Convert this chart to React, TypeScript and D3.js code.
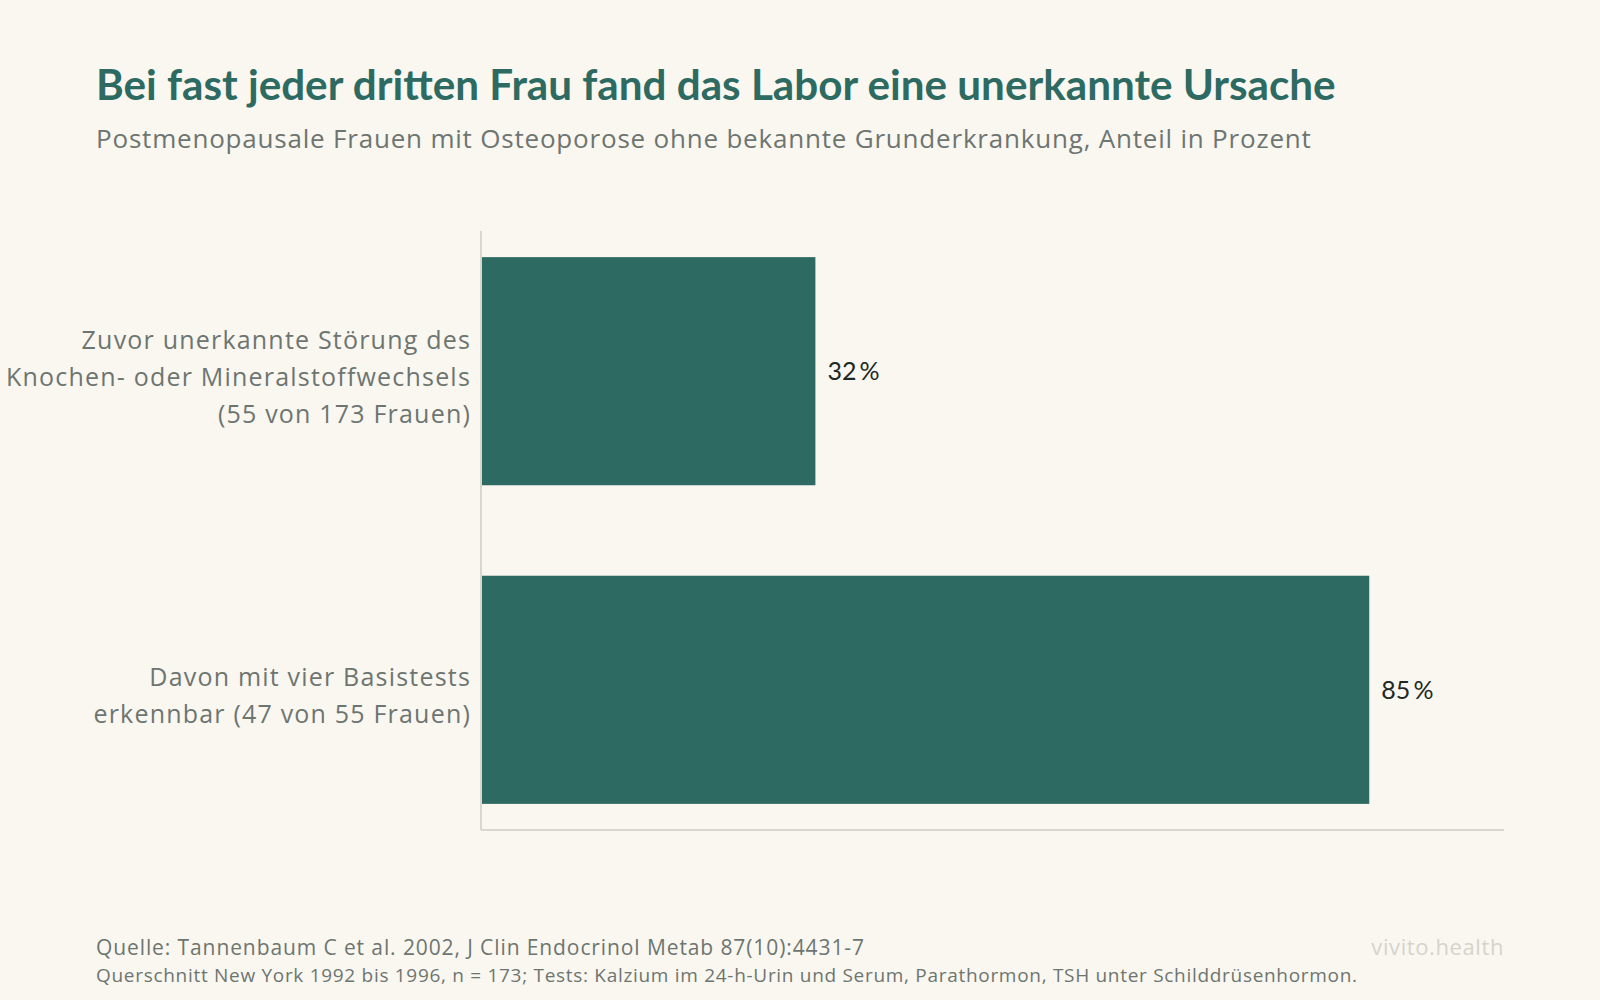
import React from "react";
import * as d3 from "d3";

const title = "Bei fast jeder dritten Frau fand das Labor eine unerkannte Ursache";
const subtitle = "Postmenopausale Frauen mit Osteoporose ohne bekannte Grunderkrankung, Anteil in Prozent";
const categories: string[][] = [
  ["Zuvor unerkannte Störung des", "Knochen- oder Mineralstoffwechsels", "(55 von 173 Frauen)"],
  ["Davon mit vier Basistests", "erkennbar (47 von 55 Frauen)"],
];
const values: number[] = [32, 85];
const valueLabels: string[] = ["32\u2009%", "85\u2009%"];
const footerLines: string[] = [
  "Quelle: Tannenbaum C et al. 2002, J Clin Endocrinol Metab 87(10):4431-7",
  "Querschnitt New York 1992 bis 1996, n = 173; Tests: Kalzium im 24-h-Urin und Serum, Parathormon, TSH unter Schilddrüsenhormon.",
];
const brand = "vivito.health";

const W = 1600;
const H = 1000;
const BG = "#faf7f0";
const GREEN = "#2d6a62";
const GRAY = "#6d7571";
const FONT_BOLD = "Lato, 'Noto Sans', sans-serif";
const FONT = "'Open Sans', 'Noto Sans', sans-serif";
const FONT_NUM = "Lato, 'Noto Sans', sans-serif";

export default function App() {
  const left = 481;
  const top = 231;
  const bottom = 830;
  const axisRight = 1504;

  const x = d3.scaleLinear().domain([0, 100]).range([left, left + 1045]);
  const y = d3
    .scaleBand<number>()
    .domain(d3.range(values.length))
    .range([top, bottom])
    .paddingInner(0.284)
    .paddingOuter(0.082);

  const lh = 37;

  return (
    <svg
      width={W}
      height={H}
      viewBox={`0 0 ${W} ${H}`}
      style={{ position: "absolute", left: 0, top: 0, display: "block" }}
    >
      <rect x={0} y={0} width={W} height={H} fill={BG} />
      <text x={96} y={100} fontFamily={FONT_BOLD} fontWeight={700} fontSize={42.2} fill={GREEN}>
        {title}
      </text>
      <text x={96} y={148} fontFamily={FONT} fontSize={26} letterSpacing={0.8} fill={GRAY}>
        {subtitle}
      </text>

      {values.map((v, i) => {
        const y0 = y(i)!;
        const bw = y.bandwidth();
        const cy = y0 + bw / 2;
        const lines = categories[i];
        const firstBase = cy - ((lines.length - 1) / 2) * lh + 14.5;
        return (
          <g key={i}>
            <rect x={x(0)} y={y0} width={x(v) - x(0)} height={bw} fill={GREEN} />
            <text x={x(v) + 12} y={cy + 9} fontFamily={FONT_NUM} fontSize={25} fill="#1e2926">
              {valueLabels[i]}
            </text>
            <text
              x={470}
              y={firstBase}
              textAnchor="end"
              fontFamily={FONT}
              fontSize={25}
              letterSpacing={1.2}
              fill={GRAY}
            >
              {lines.map((l, j) => (
                <tspan key={j} x={471} y={firstBase + j * lh}>
                  {l}
                </tspan>
              ))}
            </text>
          </g>
        );
      })}

      <line x1={left} x2={left} y1={top} y2={bottom} stroke="#d9d6cd" strokeWidth={2} />
      <line x1={left} x2={axisRight} y1={bottom} y2={bottom} stroke="#d9d6cd" strokeWidth={2} />

      <text x={96} y={955} fontFamily={FONT} fontSize={21} letterSpacing={0.9} fill={GRAY}>
        {footerLines[0]}
      </text>
      <text x={96} y={982} fontFamily={FONT} fontSize={19} letterSpacing={0.7} fill={GRAY}>
        {footerLines[1]}
      </text>
      <text
        x={axisRight}
        y={955}
        textAnchor="end"
        fontFamily={FONT}
        fontSize={22}
        letterSpacing={0.6}
        fill="#d6d3cb"
      >
        {brand}
      </text>
    </svg>
  );
}
